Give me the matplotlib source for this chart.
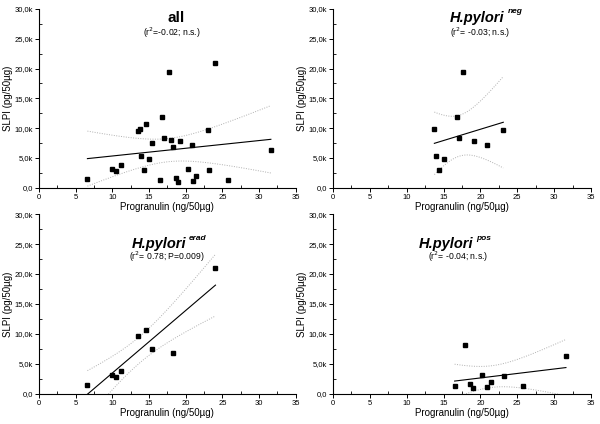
import numpy as np
import matplotlib
matplotlib.use("Agg")
import matplotlib.pyplot as plt
from matplotlib.ticker import FuncFormatter, MultipleLocator

plt.rcParams['font.family'] = ['Liberation Sans', 'DejaVu Sans']

# Progranulin (ng/50ug) and SLPI (pg/50ug) per group
neg_x = [13.75, 13.95, 14.35, 15.0, 16.8, 17.1, 17.65, 19.15, 20.9, 23.1]
neg_y = [9900, 5400, 3000, 4900, 11800, 8350, 19500, 7900, 7100, 9700]

erad_x = [6.6, 9.9, 10.5, 11.2, 13.5, 14.65, 15.4, 18.3, 24.05]
erad_y = [1500, 3200, 2800, 3850, 9600, 10700, 7450, 6900, 21000]

pos_x = [16.5, 17.95, 18.65, 18.95, 20.25, 20.95, 21.4, 23.2, 25.75, 31.6]
pos_y = [1350, 8100, 1600, 1000, 3150, 1100, 1950, 3050, 1300, 6300]

all_x = neg_x + erad_x + pos_x
all_y = neg_y + erad_y + pos_y

titles = ["all", "H.pylori", "H.pylori", "H.pylori"]
supers = [None, "neg", "erad", "pos"]
stats = ["(r$^2$=-0.02; n.s.)", "(r$^2$= -0.03; n.s.)",
         "(r$^2$= 0.78; P=0.009)", "(r$^2$= -0.04; n.s.)"]

# two-sided 95% t quantiles by degrees of freedom
t95 = {7: 2.365, 8: 2.306, 27: 2.052}

# where the title, superscript and stats line sit in each panel (data coords)
title_pos = [(18.7, 28500), (19.5, 28500), (16.4, 25000), (15.3, 25000)]
super_pos = [None, (23.7, 29500), (20.4, 26000), (19.4, 26000)]
stats_pos = [(18.05, 26000), (19.9, 26000), (17.4, 22800), (16.95, 22800)]


def fit_band(x, y):
    x = np.asarray(x, float)
    y = np.asarray(y, float)
    n = len(x)
    b, a = np.polyfit(x, y, 1)
    xs = np.linspace(x.min(), x.max(), 100)
    yhat = a + b * xs
    resid = y - (a + b * x)
    s = np.sqrt(np.sum(resid ** 2) / (n - 2))
    sxx = np.sum((x - x.mean()) ** 2)
    se = s * np.sqrt(1.0 / n + (xs - x.mean()) ** 2 / sxx)
    t = t95[n - 2]
    return xs, yhat, yhat - t * se, yhat + t * se


def kfmt(v, pos):
    if v == 0:
        return "0,0"
    return ("%.1fk" % (v / 1000)).replace(".", ",")


fig = plt.figure(figsize=(6.0, 4.24), dpi=100)
boxes = [[0.065, 0.557, 0.428, 0.422],
         [0.555, 0.557, 0.430, 0.422],
         [0.065, 0.071, 0.428, 0.424],
         [0.555, 0.071, 0.430, 0.424]]
groups = [(all_x, all_y), (neg_x, neg_y), (erad_x, erad_y), (pos_x, pos_y)]

for i in range(4):
    ax = fig.add_axes(boxes[i])
    gx, gy = groups[i]
    xs, yhat, lo, hi = fit_band(gx, gy)
    ax.plot(xs, lo, color='#b0b0b0', lw=0.7, ls=(0, (1, 1.5)))
    ax.plot(xs, hi, color='#b0b0b0', lw=0.7, ls=(0, (1, 1.5)))
    ax.plot(xs, yhat, color='black', lw=0.8)
    ax.plot(gx, gy, 's', color='black', ms=3.2, ls='none')

    ax.set_xlim(0, 35)
    ax.set_ylim(0, 30000)
    ax.xaxis.set_major_locator(MultipleLocator(5))
    ax.xaxis.set_minor_locator(MultipleLocator(2.5))
    ax.yaxis.set_major_locator(MultipleLocator(5000))
    ax.yaxis.set_minor_locator(MultipleLocator(2500))
    ax.yaxis.set_major_formatter(FuncFormatter(kfmt))
    for side in ['top', 'right']:
        ax.spines[side].set_visible(False)
    for side in ['left', 'bottom']:
        ax.spines[side].set_linewidth(0.8)
    ax.tick_params(which='major', direction='out', length=3, width=0.7,
                   labelsize=5.5, pad=1.5)
    ax.tick_params(which='minor', direction='in', length=2, width=0.6)
    ax.set_xlabel("Progranulin (ng/50\u00b5g)", fontsize=7, labelpad=0.5)
    ax.set_ylabel("SLPI (pg/50\u00b5g)", fontsize=7, labelpad=1)

    tx, ty = title_pos[i]
    if supers[i] is None:
        ax.text(tx, ty, titles[i], ha='center', va='center',
                fontsize=11, fontweight='bold')
    else:
        ax.text(tx, ty, titles[i], ha='center', va='center',
                fontsize=10.5, fontweight='bold', fontstyle='italic')
        sx, sy = super_pos[i]
        ax.text(sx, sy, supers[i], ha='left', va='center',
                fontsize=6, fontweight='bold', fontstyle='italic')
    cx, cy = stats_pos[i]
    ax.text(cx, cy, stats[i], ha='center', va='center', fontsize=6.2)

fig.savefig("out.png", dpi=100)
